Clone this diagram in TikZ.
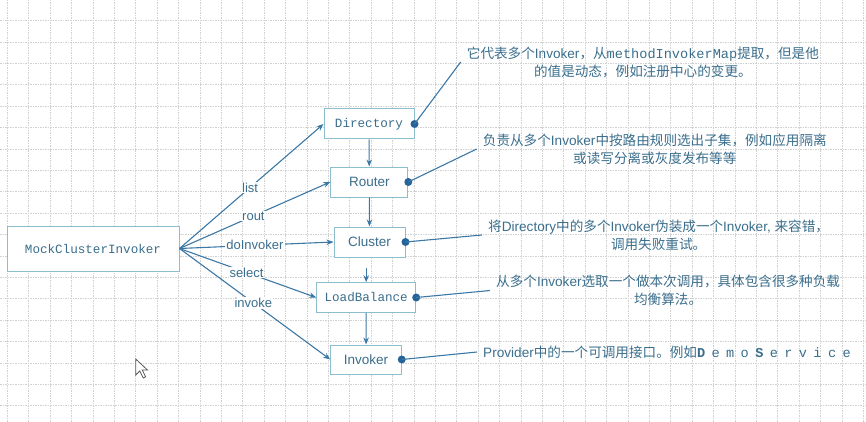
\documentclass[tikz,border=0pt]{standalone}
\usepackage{fontspec}
\setmainfont{Noto Sans CJK SC}
\newfontfamily\lat{Liberation Sans}
\newfontfamily\mono{Liberation Mono}
\newfontfamily\spaced[LetterSpace=47]{Liberation Mono}
\usepackage{tikz}
\usetikzlibrary{arrows.meta}

\definecolor{txtc}{RGB}{58,110,140}
\definecolor{bdc}{RGB}{140,190,205}
\definecolor{lnc}{RGB}{60,120,165}
\definecolor{dotc}{RGB}{37,100,155}

\begin{document}
\begin{tikzpicture}[
          x=1pt, y=-1pt,
          every node/.style={text=txtc},
          blk/.style={draw=bdc, fill=white, line width=1pt, inner sep=0pt},
          mono/.style={font=\mono\fontsize{12.6}{14}\selectfont},
          sans/.style={font=\lat\fontsize{13.5}{15}\selectfont},
          arr/.style={-{Stealth[length=7pt,width=5.5pt]}, draw=lnc, line width=1.1pt},
          lab/.style={font=\lat\fontsize{13}{15}\selectfont, fill=white, inner sep=1pt},
          note/.style={font=\fontsize{13.6}{18}\selectfont, align=center, anchor=west, inner sep=6pt},
          dot/.style={circle, fill=dotc, inner sep=0pt, minimum size=8pt},
          pin/.style={draw=lnc, line width=1.1pt},
          gridline/.style={draw=black!18, line width=0.7pt, dash pattern=on 1.5pt off 1pt},
        ]
          \useasboundingbox (0,0) rectangle (866,422);
          %% background grid
          \foreach \gx in {0,...,40}
            \draw[gridline] ({7.3+21.4*\gx},0) -- ({7.3+21.4*\gx},422);
          \foreach \gy in {0,...,18}
            \draw[gridline] (0,{20.6+21.4*\gy}) -- (866,{20.6+21.4*\gy});

          %% caller
          \node[blk, mono, minimum width=172pt, minimum height=45pt] (mock) at (93,248.5) {MockClusterInvoker};
          %% centre column
          \node[blk, mono, minimum width=90pt,   minimum height=30pt]   (dir) at (369,124)     {Directory};
          \node[blk, sans, minimum width=77pt,   minimum height=30pt]   (rtr) at (369.3,182)   {Router};
          \node[blk, sans, minimum width=71pt,   minimum height=30pt]   (clu) at (369.5,242)   {Cluster};
          \node[blk, mono, minimum width=99pt,   minimum height=29.5pt] (lb)  at (366.2,297.5) {LoadBalance};
          \node[blk, sans, minimum width=70.5pt, minimum height=29pt]   (inv) at (366,359.5)   {Invoker};

          %% calls from the caller
          \draw[arr] (mock.east) -- node[lab,pos=0.49]{list}      (dir.west);
          \draw[arr] (mock.east) -- node[lab,pos=0.49]{rout}      (rtr.west);
          \draw[arr] (mock.east) -- node[lab,pos=0.49]{doInvoker} (clu.west);
          \draw[arr] (mock.east) -- node[lab,pos=0.49]{select}    (lb.west);
          \draw[arr] (mock.east) -- node[lab,pos=0.49]{invoke}    (inv.west);

          %% chain
          \draw[arr] (dir) -- (rtr);
          \draw[arr] (rtr) -- (clu);
          \draw[arr, shorten <=10pt] (clu.south -| lb.north) -- (lb.north);
          \draw[arr] (lb) -- (inv);

          %% notes on the right
          \node[note] (ndir) at (460.7,62)  {它代表多个{\lat Invoker}，从{\mono methodInvokerMap}提取，但是他\\的值是动态，例如注册中心的变更。};
          \node[note] (nrtr) at (476.7,149) {负责从多个{\lat Invoker}中按路由规则选出子集，例如应用隔离\\或读写分离或灰度发布等等};
          \node[note] (nclu) at (482,235)   {将{\lat Directory}中的多个{\lat Invoker}伪装成一个{\lat Invoker, }来容错，\\调用失败重试。};
          \node[note] (nlb)  at (490,290.5) {从多个{\lat Invoker}选取一个做本次调用，具体包含很多种负载\\均衡算法。};
          \node[note] (ninv) at (477,352)   {{\lat Provider}中的一个可调用接口。例如{\spaced\textbf{D}emo\textbf{S}ervice}};

          %% pins from boxes to notes
          \node[dot] (pdir) at (dir.east) {};
          \node[dot] (prtr) at (rtr.east) {};
          \node[dot] (pclu) at (clu.east) {};
          \node[dot] (plb)  at (lb.east)  {};
          \node[dot] (pinv) at (inv.east) {};
          \draw[pin] (pdir.center) -- (ndir.west);
          \draw[pin] (prtr.center) -- (nrtr.west);
          \draw[pin] (pclu.center) -- (nclu.west);
          \draw[pin] (plb.center)  -- (nlb.west);
          \draw[pin] (pinv.center) -- (ninv.west);

          %% mouse pointer
          \draw[black!65, fill=white, line width=0.8pt] (135.7,359) -- ++(0,16) -- ++(4,-4)
                -- ++(3.5,7) -- ++(2.5,-1.2) -- ++(-3.5,-6.8) -- ++(5.3,0) -- cycle;
        \end{tikzpicture}
\end{document}
